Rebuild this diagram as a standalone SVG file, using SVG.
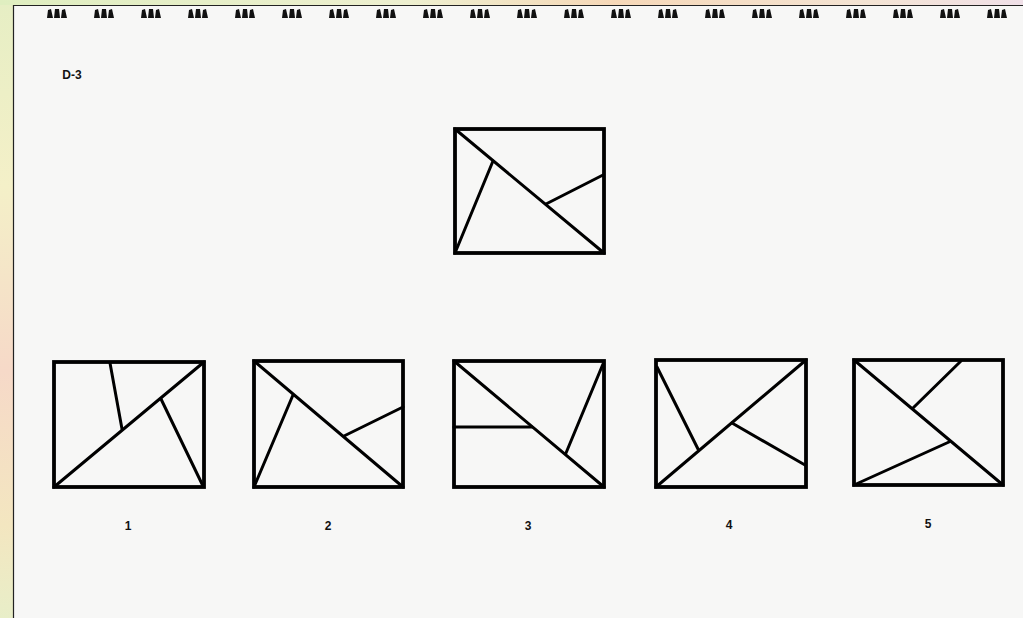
<svg xmlns="http://www.w3.org/2000/svg" width="1023" height="618" viewBox="0 0 1023 618">
<defs>
<linearGradient id="side" x1="0" y1="0" x2="0" y2="1">
<stop offset="0" stop-color="#e6eec4"/>
<stop offset="0.3" stop-color="#f4f0c8"/>
<stop offset="0.6" stop-color="#f6d9c8"/>
<stop offset="0.85" stop-color="#f3e6c0"/>
<stop offset="1" stop-color="#e8eec8"/>
</linearGradient>
<linearGradient id="top" x1="0" y1="0" x2="1" y2="0">
<stop offset="0" stop-color="#dfeec0"/>
<stop offset="0.4" stop-color="#eef0d0"/>
<stop offset="0.6" stop-color="#f6d8b8"/>
<stop offset="0.85" stop-color="#f4e4d4"/>
<stop offset="1" stop-color="#f0e0e8"/>
</linearGradient>
<g id="ring">
<path d="M-10,9 L-9,1 L-6,0 L-4,9 Z M-3,9 L-2,0 L2,0 L3,9 Z M4,9 L5,1 L8,0 L10,9 Z" fill="#111"/>
</g>
</defs>
<style>
.box{fill:none;stroke:#000;stroke-width:3.8}
.ln{fill:none;stroke:#000;stroke-width:3;stroke-linecap:round}
.lbl{font-family:"Liberation Sans",Arial,sans-serif;font-weight:bold;font-size:12px;fill:#111;text-anchor:middle}
</style>
<rect x="0" y="0" width="1023" height="618" fill="#f7f7f6"/>
<rect x="0" y="0" width="13" height="618" fill="url(#side)"/>
<rect x="0" y="0" width="1023" height="5" fill="url(#top)"/>
<line x1="13.5" y1="5" x2="13.5" y2="618" stroke="#222" stroke-width="1.2"/>
<line x1="13" y1="5.5" x2="1023" y2="5.5" stroke="#222" stroke-width="1.2"/>
<g id="binding">
<use href="#ring" x="57" y="9"/><use href="#ring" x="104" y="9"/><use href="#ring" x="151" y="9"/><use href="#ring" x="198" y="9"/><use href="#ring" x="245" y="9"/><use href="#ring" x="292" y="9"/><use href="#ring" x="339" y="9"/><use href="#ring" x="386" y="9"/><use href="#ring" x="433" y="9"/><use href="#ring" x="480" y="9"/><use href="#ring" x="527" y="9"/><use href="#ring" x="574" y="9"/><use href="#ring" x="621" y="9"/><use href="#ring" x="668" y="9"/><use href="#ring" x="715" y="9"/><use href="#ring" x="762" y="9"/><use href="#ring" x="809" y="9"/><use href="#ring" x="856" y="9"/><use href="#ring" x="903" y="9"/><use href="#ring" x="950" y="9"/><use href="#ring" x="997" y="9"/>
</g>
<text class="lbl" x="72" y="79">D-3</text>
<g id="target">
<rect class="box" x="455" y="129" width="149" height="124"/>
<line class="ln" x1="455" y1="129" x2="604" y2="253"/>
<line class="ln" x1="455" y1="253" x2="493" y2="161"/>
<line class="ln" x1="546" y1="204" x2="603" y2="175"/>
</g>
<g id="option1">
<rect class="box" x="54" y="362" width="150" height="125"/>
<line class="ln" x1="54" y1="487" x2="204" y2="362"/>
<line class="ln" x1="110" y1="363" x2="122" y2="429"/>
<line class="ln" x1="161" y1="399" x2="203" y2="486"/>
<text class="lbl" x="128" y="530">1</text>
</g>
<g id="option2">
<rect class="box" x="254" y="361" width="149" height="126"/>
<line class="ln" x1="254" y1="361" x2="403" y2="487"/>
<line class="ln" x1="254" y1="487" x2="293" y2="395"/>
<line class="ln" x1="344" y1="436" x2="403" y2="407"/>
<text class="lbl" x="328" y="530">2</text>
</g>
<g id="option3">
<rect class="box" x="454" y="361" width="150" height="126"/>
<line class="ln" x1="454" y1="361" x2="604" y2="487"/>
<line class="ln" x1="454" y1="427" x2="532" y2="427"/>
<line class="ln" x1="603" y1="364" x2="566" y2="453"/>
<text class="lbl" x="528" y="530">3</text>
</g>
<g id="option4">
<rect class="box" x="656" y="360" width="150" height="127"/>
<line class="ln" x1="656" y1="487" x2="806" y2="360"/>
<line class="ln" x1="657" y1="367" x2="698" y2="449"/>
<line class="ln" x1="732" y1="423" x2="805" y2="465"/>
<text class="lbl" x="729" y="529">4</text>
</g>
<g id="option5">
<rect class="box" x="854" y="360" width="149" height="125"/>
<line class="ln" x1="854" y1="360" x2="1003" y2="485"/>
<line class="ln" x1="961" y1="361" x2="913" y2="408"/>
<line class="ln" x1="854" y1="485" x2="949" y2="442"/>
<text class="lbl" x="928" y="528">5</text>
</g>
</svg>
